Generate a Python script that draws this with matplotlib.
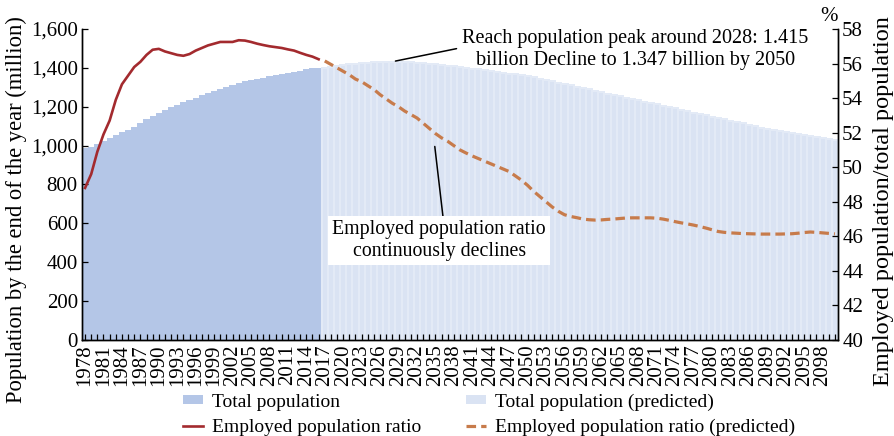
import matplotlib
matplotlib.use("Agg")
import matplotlib.pyplot as plt
from matplotlib.patches import Patch
from matplotlib.lines import Line2D

plt.rcParams['font.family'] = ['Liberation Serif', 'DejaVu Serif']

# --- data ---
years_hist = list(range(1978, 2017))
years_pred = list(range(2017, 2101))

pop_hist = [987, 995, 1010, 1025, 1040, 1055, 1068, 1082, 1098, 1115,
            1135, 1152, 1168, 1183, 1197, 1210, 1222, 1234, 1246, 1258,
            1270, 1282, 1292, 1302, 1312, 1321, 1330, 1337, 1343, 1350,
            1356, 1362, 1368, 1374, 1380, 1386, 1392, 1397, 1400]

pop_pred = [1400, 1405, 1410, 1414, 1418, 1421, 1424, 1426, 1428, 1429,
            1430, 1431, 1431, 1430, 1429, 1427, 1425, 1422, 1419, 1416,
            1412, 1408, 1404, 1400, 1396, 1392, 1388, 1384, 1380, 1375,
            1371, 1366, 1362, 1357, 1351, 1345, 1338, 1331, 1324, 1317,
            1310, 1303, 1296, 1289, 1282, 1275, 1268, 1261, 1254, 1247,
            1240, 1233, 1226, 1219, 1212, 1205, 1198, 1191, 1184, 1177,
            1170, 1163, 1156, 1149, 1142, 1135, 1128, 1121, 1114, 1107,
            1100, 1093, 1087, 1081, 1075, 1069, 1064, 1059, 1054, 1049,
            1044, 1039, 1034, 1030]

ratio_hist = [48.8, 49.6, 50.9, 51.9, 52.7, 53.9, 54.8, 55.3, 55.8, 56.1,
              56.5, 56.8, 56.85, 56.7, 56.6, 56.5, 56.45, 56.55, 56.75, 56.9,
              57.05, 57.15, 57.25, 57.25, 57.25, 57.35, 57.33, 57.25, 57.15, 57.07,
              57.0, 56.95, 56.9, 56.82, 56.75, 56.62, 56.5, 56.4, 56.25]

ratio_pred = [56.15, 55.95, 55.75, 55.55, 55.35, 55.1, 54.95, 54.72, 54.5, 54.2,
              53.95, 53.7, 53.5, 53.25, 53.05, 52.85, 52.55, 52.25, 51.95, 51.7,
              51.5, 51.25, 51.0, 50.82, 50.65, 50.5, 50.35, 50.2, 50.05, 49.9,
              49.75, 49.5, 49.25, 48.95, 48.6, 48.3, 48.0, 47.7, 47.45, 47.25,
              47.15, 47.08, 47.0, 46.96, 46.94, 46.95, 46.98, 47.0, 47.03, 47.06,
              47.07, 47.07, 47.07, 47.07, 47.05, 47.0, 46.93, 46.85, 46.78, 46.72,
              46.65, 46.57, 46.48, 46.38, 46.28, 46.23, 46.2, 46.18, 46.16, 46.15,
              46.14, 46.13, 46.13, 46.13, 46.13, 46.14, 46.15, 46.18, 46.22, 46.25,
              46.23, 46.2, 46.17, 46.14]

left_ticks = [0, 200, 400, 600, 800, 1000, 1200, 1400, 1600]
left_labels = ["0", "200", "400", "600", "800", "1,000", "1,200", "1,400", "1,600"]
right_ticks = [40, 42, 44, 46, 48, 50, 52, 54, 56, 58]

c_hist = "#B4C6E7"
c_pred = "#DAE3F3"
c_red = "#A32A2E"
c_orange = "#C77B4B"

fig = plt.figure(figsize=(8.95, 4.36), dpi=100)
ax = fig.add_axes([0.0916, 0.2202, 0.8447, 0.7133])
ax2 = ax.twinx()

ax.bar(years_hist, pop_hist, width=1.0, color=c_hist, linewidth=0, antialiased=False)
ax.bar(years_pred, pop_pred, width=1.0, color=c_pred, edgecolor="#E3EAF6",
       linewidth=0.3, antialiased=False)

ax2.plot(years_hist, ratio_hist, color=c_red, lw=1.9)
ax2.plot(years_pred, ratio_pred, color=c_orange, lw=2.3, linestyle=(0, (3, 1.6)))

ax.set_xlim(1977.5, 2100.5)
ax.set_ylim(0, 1600)
ax2.set_ylim(40, 58)

all_years = years_hist + years_pred
ax.set_xticks(all_years)
ax.set_xticklabels([str(y) if (y - 1978) % 3 == 0 else "" for y in all_years],
                   rotation=90, fontsize=15)
ax.tick_params(axis='x', direction='in', length=4, width=0.9, pad=3)
ax.set_yticks(left_ticks)
ax.set_yticklabels(left_labels, fontsize=15)
ax.tick_params(axis='y', direction='in', length=4, width=0.9, pad=3)
ax2.set_yticks(right_ticks)
ax2.tick_params(axis='y', direction='in', length=4, width=0.9, pad=3, labelsize=15)

for a in (ax, ax2):
    a.spines['top'].set_visible(False)
    for s in ('left', 'right', 'bottom'):
        a.spines[s].set_linewidth(1.0)

ax.set_ylabel("Population by the end of the year (million)", fontsize=16.3)
ax.yaxis.set_label_coords(-0.073, 0.418)
ax2.set_ylabel("Employed population/total population", fontsize=17.5)
ax2.yaxis.set_label_coords(1.046, 0.447)
ax2.text(1.0, 1.01, "%", transform=ax2.transAxes, ha='right', va='bottom', fontsize=15)

# annotations
ax.annotate("Reach population peak around 2028: 1.415\nbillion Decline to 1.347 billion by 2050",
            xy=(2028.5, 1435), xytext=(2067.5, 1494), fontsize=14.5, ha='center', va='center',
            linespacing=1.25,
            arrowprops=dict(arrowstyle='-', color='black', lw=1.1, shrinkA=2, shrinkB=0,
                            relpos=(0.0, 0.55)))
ax2.annotate("Employed population ratio\ncontinuously declines",
             xy=(2034.9, 51.2), xytext=(2035.6, 45.75), fontsize=14.3, ha='center', va='center',
             linespacing=1.25,
             bbox=dict(boxstyle='square,pad=0.2', fc='white', ec='none'),
             arrowprops=dict(arrowstyle='-', color='black', lw=1.1, shrinkA=0, shrinkB=0,
                             relpos=(0.52, 1.0)))

handles = [
    Patch(facecolor=c_hist, edgecolor='none', label="Total population"),
    Line2D([0], [0], color=c_red, lw=1.9, label="Employed population ratio"),
    Patch(facecolor=c_pred, edgecolor='none', label="Total population (predicted)"),
    Line2D([0], [0], color=c_orange, lw=2.3, linestyle=(0, (3, 1.6)),
           label="Employed population ratio (predicted)"),
]
fig.legend(handles=handles, ncol=2, loc='upper left', bbox_to_anchor=(0.2045, 0.098),
           frameon=False, fontsize=14, borderpad=0, borderaxespad=0,
           handlelength=1.05, handleheight=0.4, handletextpad=0.46,
           columnspacing=2.27, labelspacing=0.42)

fig.savefig("out.png", dpi=100)
